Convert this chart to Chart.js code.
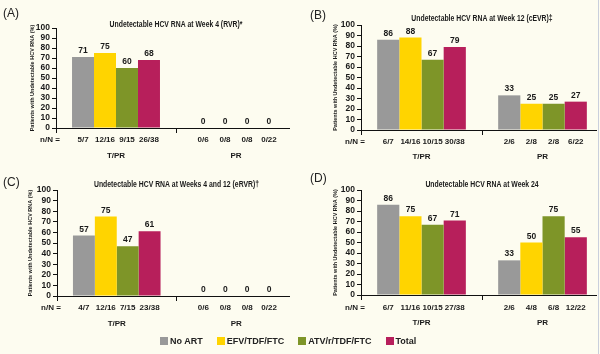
<!DOCTYPE html>
<html><head><meta charset="utf-8">
<script src="https://cdn.jsdelivr.net/npm/chart.js@4.4.1/dist/chart.umd.min.js"></script>
<style>
html,body{margin:0;padding:0;background:#fdfcf0;overflow:hidden;width:600px;height:354px;}
canvas{position:absolute;}
.letter{position:absolute;font:12px "Liberation Sans",Arial,sans-serif;color:#222;}
#legend{position:absolute;left:160px;top:336px;display:flex;gap:14px;font:bold 9px "Liberation Sans",Arial,sans-serif;color:#222;}
.item{display:flex;align-items:center;height:10px;}
.sw{width:8px;height:8px;margin-right:2px;}
#edge{position:absolute;left:598px;top:0;width:1px;height:354px;background:#c9cfdc;}
</style></head><body>
<canvas id="cA" width="300" height="170" style="left:0;top:0"></canvas>
<canvas id="cB" width="310" height="170" style="left:300px;top:0"></canvas>
<canvas id="cC" width="300" height="170" style="left:0;top:170px"></canvas>
<canvas id="cD" width="310" height="170" style="left:300px;top:170px"></canvas>
<div class="letter" style="left:3px;top:6px">(A)</div>
<div class="letter" style="left:310px;top:8px">(B)</div>
<div class="letter" style="left:3px;top:175px">(C)</div>
<div class="letter" style="left:310px;top:171px">(D)</div>
<div id="legend"></div>
<div id="edge"></div>
<script>
// ---- data ----
const categories = ['T/PR', 'PR'];
const seriesNames = ['No ART', 'EFV/TDF/FTC', 'ATV/r/TDF/FTC', 'Total'];
const seriesColors = ['#999999', '#ffd400', '#7e9528', '#b71f5b'];

const titleA = 'Undetectable HCV RNA at Week 4 (RVR)*';
const valuesA = [[71, 0], [75, 0], [60, 0], [68, 0]];
const countsA = [['5/7', '0/6'], ['12/16', '0/8'], ['9/15', '0/8'], ['26/38', '0/22']];

const titleB = 'Undetectable HCV RNA at Week 12 (cEVR)\u2021';
const valuesB = [[86, 33], [88, 25], [67, 25], [79, 27]];
const countsB = [['6/7', '2/6'], ['14/16', '2/8'], ['10/15', '2/8'], ['30/38', '6/22']];

const titleC = 'Undetectable HCV RNA at Weeks 4 and 12 (eRVR)\u2020';
const valuesC = [[57, 0], [75, 0], [47, 0], [61, 0]];
const countsC = [['4/7', '0/6'], ['12/16', '0/8'], ['7/15', '0/8'], ['23/38', '0/22']];

const titleD = 'Undetectable HCV RNA at Week 24';
const valuesD = [[86, 33], [75, 50], [67, 75], [71, 55]];
const countsD = [['6/7', '2/6'], ['11/16', '4/8'], ['10/15', '6/8'], ['27/38', '12/22']];

const yTicks = [0, 10, 20, 30, 40, 50, 60, 70, 80, 90, 100];
const yTitle = 'Patients with Undetectable HCV RNA (%)';
const nnLabel = 'n/N =';

// ---- drawing ----
const FONT = '"Liberation Sans", Arial, sans-serif';
const YW = 40;

const textPlugin = {
  id: 'panelText',
  afterDatasetsDraw(chart, args, o) {
    const ctx = chart.ctx, ca = chart.chartArea;
    const ys = chart.scales.y, xs = chart.scales.x;
    ctx.save();
    const y0 = Math.round(ys.getPixelForValue(0)) + 0.5;
    ctx.strokeStyle = '#111'; ctx.lineWidth = 1;
    ctx.beginPath(); ctx.moveTo(ca.left, y0); ctx.lineTo(ca.right - o.trim, y0); ctx.stroke();
    ctx.fillStyle = '#1a1a1a';
    ctx.textAlign = 'center';
    chart.data.datasets.forEach((ds, i) => {
      chart.getDatasetMeta(i).data.forEach((bar, j) => {
        ctx.font = 'bold 8.5px ' + FONT;
        ctx.textBaseline = 'bottom';
        ctx.fillText(String(ds.data[j]), bar.x, bar.y - 2);
        ctx.font = 'bold 8px ' + FONT;
        ctx.textBaseline = 'middle';
        ctx.fillText(o.counts[i][j], bar.x, ys.getPixelForValue(0) + o.nnDy);
      });
    });
    ctx.font = 'bold 8px ' + FONT;
    ctx.textBaseline = 'middle';
    ctx.fillText(nnLabel, ca.left - 6, ys.getPixelForValue(0) + o.nnDy);
    chart.data.labels.forEach((l, j) => {
      ctx.fillText(l, xs.getPixelForValue(j), ys.getPixelForValue(0) + o.grpDy);
    });
    ctx.font = 'bold 9px ' + FONT;
    ctx.translate((ca.left + ca.right) / 2, o.titleY);
    ctx.scale(0.76, 1);
    ctx.fillText(o.title, 0, 0);
    ctx.restore();
  }
};

function makePanel(id, g, values, counts, title) {
  new Chart(document.getElementById(id), {
    type: 'bar',
    data: {
      labels: categories,
      datasets: seriesNames.map((n, i) => ({
        label: n, data: values[i], backgroundColor: seriesColors[i],
        borderWidth: 0, categoryPercentage: 0.733, barPercentage: 1
      }))
    },
    options: {
      responsive: false, animation: false, devicePixelRatio: 1,
      layout: { padding: { left: g.left - YW, right: g.w - g.right, top: g.top, bottom: g.h - g.bottom } },
      plugins: {
        legend: { display: false }, tooltip: { enabled: false },
        panelText: { counts: counts, title: title, titleY: g.titleY, nnDy: g.nnDy, grpDy: g.grpDy, trim: 6 }
      },
      scales: {
        x: {
          grid: { drawOnChartArea: false, tickLength: 5, color: c => c.type === 'tick' ? '#111' : 'rgba(0,0,0,0)' },
          border: { display: false },
          ticks: { display: false },
          afterFit: s => { s.height = 0; }
        },
        y: {
          min: 0, max: 100,
          afterBuildTicks: s => { s.ticks = yTicks.map(v => ({ value: v })); },
          ticks: { autoSkip: false, font: { size: 8.5, weight: 'bold', family: FONT }, color: '#1a1a1a', padding: 2 },
          grid: { drawOnChartArea: false, tickLength: 4, color: '#111' },
          border: { display: true, color: '#111' },
          title: {
            display: true, text: yTitle, color: '#1a1a1a',
            font: { size: 5.5, weight: 'bold', family: FONT },
            padding: { top: g.ytitle - (g.left - YW) - 3.3, bottom: 0 }
          },
          afterFit: s => { s.width = YW; }
        }
      }
    },
    plugins: [textPlugin]
  });
}

makePanel('cA', { w: 300, h: 170, left: 56, right: 296, top: 28, bottom: 128, titleY: 25, nnDy: 12, grpDy: 28, ytitle: 32 }, valuesA, countsA, titleA);
makePanel('cB', { w: 310, h: 170, left: 61, right: 303, top: 25, bottom: 130, titleY: 19, nnDy: 12, grpDy: 27, ytitle: 35 }, valuesB, countsB, titleB);
makePanel('cC', { w: 300, h: 170, left: 57, right: 296, top: 20, bottom: 126, titleY: 15, nnDy: 12, grpDy: 28, ytitle: 30 }, valuesC, countsC, titleC);
makePanel('cD', { w: 310, h: 170, left: 61, right: 303, top: 20, bottom: 125, titleY: 15, nnDy: 13, grpDy: 28, ytitle: 35 }, valuesD, countsD, titleD);

const legend = document.getElementById('legend');
seriesNames.forEach((n, i) => {
  const it = document.createElement('div'); it.className = 'item';
  const sw = document.createElement('div'); sw.className = 'sw'; sw.style.background = seriesColors[i];
  const tx = document.createElement('span'); tx.textContent = n;
  it.appendChild(sw); it.appendChild(tx); legend.appendChild(it);
});
</script>
</body></html>
